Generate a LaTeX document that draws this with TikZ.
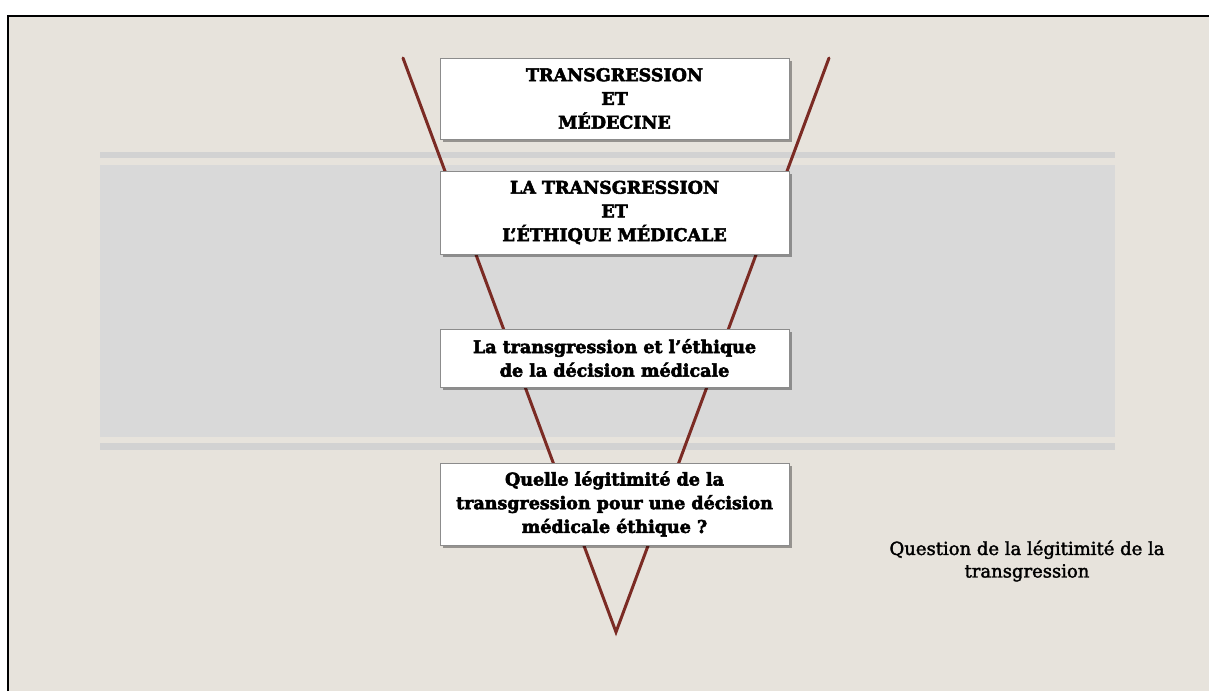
\documentclass[tikz,border=0pt]{standalone}
\usepackage{fontspec}
\setmainfont{DejaVu Serif}
\newfontfamily\slabheavy{DejaVu Serif}[BoldFeatures={FakeBold=3}, UprightFeatures={FakeBold=2}]
\usetikzlibrary{positioning, shadows}
\definecolor{slidebg}{HTML}{E7E3DC}
\definecolor{bandgray}{HTML}{D9D9D9}
\definecolor{stripgray}{HTML}{D2D2D2}
\definecolor{vred}{HTML}{7B2B24}
\definecolor{boxedge}{HTML}{8C8C8C}

\begin{document}
\begin{tikzpicture}[x=1pt, y=-1pt,
		titlebox/.style={draw=boxedge, line width=1pt, fill=white, align=center,
			minimum width=349pt, inner sep=2pt,
			font=\slabheavy\bfseries\fontsize{17.5}{23.7}\selectfont,
			drop shadow={shadow xshift=3pt, shadow yshift=-3pt, fill=black, opacity=0.35}},
		vline/.style={draw=vred, line width=3pt, line cap=round, line join=miter},
		notetext/.style={align=center, inner sep=0pt, font=\slabheavy\fontsize{18}{22.5}\selectfont}]
	\useasboundingbox (0,0) rectangle (1209,691);
	% slide
	\fill[white] (0,0) rectangle (1209,691);
	\fill[slidebg] (8,16) rectangle (1209,691);
	\draw[black, line width=2pt] (8,691) -- (8,16) -- (1209,16);
	% grey band
	\fill[stripgray] (100,152) rectangle (1115,158);
	\fill[bandgray] (100,165) rectangle (1115,437);
	\fill[stripgray] (100,443) rectangle (1115,450);
	% funnel
	\coordinate (topL) at (403,58);
	\coordinate (topR) at (829,58);
	\coordinate (apex) at (616,632);
	\draw[vline] (topL) -- (apex) -- (topR);
	% boxes
	\node[titlebox, minimum height=81pt] (medecine) at (614.5,98.5)
		{TRANSGRESSION\\ET\\MÉDECINE};
	\node[titlebox, minimum height=83pt, below=31pt of medecine] (ethique)
		{LA TRANSGRESSION\\ET\\L’ÉTHIQUE MÉDICALE};
	\node[titlebox, minimum height=58pt, below=74pt of ethique] (decision)
		{La transgression et l’éthique\\de la décision médicale};
	\node[titlebox, minimum height=82pt, below=75pt of decision] (legitimite)
		{Quelle légitimité de la\\transgression pour une décision\\médicale éthique ?};
	% side note
	\node[notetext] (question) at (1027,561)
		{Question de la légitimité de la\\transgression};
\end{tikzpicture}
\end{document}
